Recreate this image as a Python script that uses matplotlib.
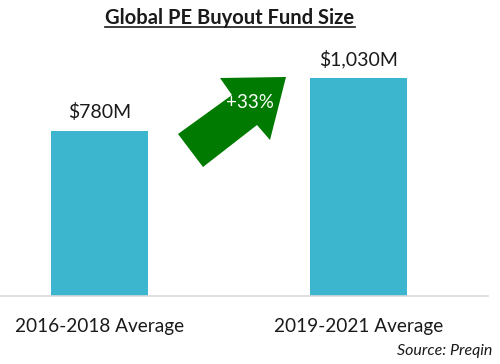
import matplotlib
matplotlib.use("Agg")
import matplotlib.pyplot as plt
from matplotlib.patches import Polygon
from matplotlib.lines import Line2D

categories = ["2016-2018 Average", "2019-2021 Average"]
values = [780, 1030]
value_labels = ["$780M", "$1,030M"]
title = "Global PE Buyout Fund Size"
growth_label = "+33%"
source = "Source: Preqin"

W, H = 500, 364
plt.rcParams['font.family'] = ['Lato', 'DejaVu Sans']
fig = plt.figure(figsize=(W / 100, H / 100), dpi=100)

def fx(px):
    return px / W

def fy(py):
    return 1 - py / H

ax = fig.add_axes([fx(0), fy(296), fx(488), (296 - 40) / H])
bar_color = "#3CB5CE"
x = list(range(len(categories)))
ax.bar(x, values, width=0.375, color=bar_color)
ax.set_xlim(-0.384, 1.5)
ax.set_ylim(0, 1210)
for s in ["top", "right", "left"]:
    ax.spines[s].set_visible(False)
ax.spines["bottom"].set_color("#D9D9D9")
ax.spines["bottom"].set_linewidth(1.2)
ax.set_yticks([])
ax.set_xticks(x)
ax.set_xticklabels(categories, fontsize=13.7, color="#1a1a1a")
ax.tick_params(axis="x", length=0, pad=16)

for xi, v, lab in zip(x, values, value_labels):
    ax.annotate(lab, (xi, v), xytext=(0, 7), textcoords="offset points",
                ha="center", va="bottom", fontsize=14, color="#1a1a1a")

# title with underline
t = fig.text(fx(230), fy(18), title, ha="center", va="center",
             fontsize=14.5, fontweight="bold", color="#1a1a1a")
fig.canvas.draw()
bb = t.get_window_extent()
fig.add_artist(Line2D([bb.x0 / W, bb.x1 / W], [fy(27), fy(27)],
                      transform=fig.transFigure, color="#1a1a1a", lw=1.2))

# growth arrow
arrow_px = [(178, 134), (232, 95), (220, 78), (286, 77),
            (270, 140), (257, 125), (203, 167)]
arrow = Polygon([(fx(a), fy(b)) for a, b in arrow_px], closed=True,
                transform=fig.transFigure, facecolor="#007A00",
                edgecolor="none")
fig.add_artist(arrow)
fig.text(fx(250), fy(103), growth_label, ha="center", va="center",
         fontsize=13.5, color="white")

fig.text(fx(492), fy(351), source, ha="right", va="center",
         fontsize=11.5, style="italic", color="#1a1a1a")

fig.savefig("out.png", dpi=100)
